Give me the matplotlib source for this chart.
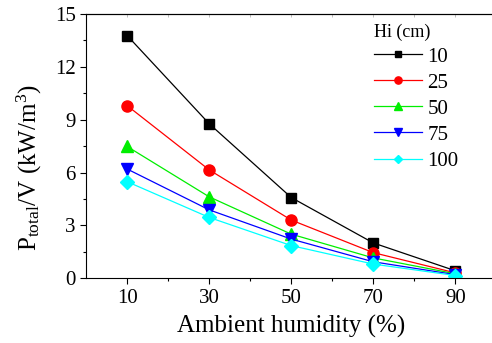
import numpy as np
import matplotlib
matplotlib.use("Agg")
import matplotlib.pyplot as plt
from matplotlib.ticker import MultipleLocator, FixedLocator

plt.rcParams["font.family"] = "serif"
plt.rcParams["font.serif"] = ["Liberation Serif", "DejaVu Serif"]
plt.rcParams["mathtext.fontset"] = "custom"
plt.rcParams["mathtext.rm"] = "Liberation Serif"
plt.rcParams["mathtext.it"] = "Liberation Serif:italic"

# ---- data ----
humidity = [10, 30, 50, 70, 90]
hi_labels = ["10", "25", "50", "75", "100"]
p_10 = [13.78, 8.77, 4.58, 2.0, 0.42]
p_25 = [9.8, 6.15, 3.3, 1.45, 0.3]
p_50 = [7.48, 4.62, 2.5, 1.15, 0.25]
p_75 = [6.2, 3.88, 2.22, 0.93, 0.2]
p_100 = [5.48, 3.45, 1.85, 0.8, 0.15]

series = [p_10, p_25, p_50, p_75, p_100]
colors = ["black", "red", "#00ee00", "blue", "cyan"]
markers = ["s", "o", "^", "v", "D"]
msizes = [7, 8, 8, 8, 7]

fig = plt.figure(figsize=(4.92, 3.43), dpi=100)
ax = fig.add_axes([0.175, 0.189, 0.834, 0.77])

for vals, c, m, ms, lab in zip(series, colors, markers, msizes, hi_labels):
    ax.plot(humidity, vals, color=c, marker=m, markersize=ms, lw=0.9,
            markeredgecolor=c, label=lab)

ax.set_xlim(0, 100)
ax.set_ylim(0, 15)
ax.xaxis.set_major_locator(FixedLocator(humidity))
ax.xaxis.set_minor_locator(FixedLocator([20, 40, 60, 80]))
ax.yaxis.set_major_locator(MultipleLocator(3))
ax.yaxis.set_minor_locator(MultipleLocator(1.5))
ax.tick_params(which="major", direction="out", length=4, width=0.8, labelsize=15)
ax.tick_params(which="minor", direction="out", length=2.5, width=0.8)
ax.spines["right"].set_visible(False)

# faint inward ticks along the top edge
top = ax.secondary_xaxis("top")
top.set_xticks(np.arange(0, 101, 10))
top.tick_params(direction="in", length=2, width=0.6, color="0.7", labeltop=False)

ax.set_xlabel("Ambient humidity (%)", fontsize=18, labelpad=5)
ax.set_ylabel(r"P$_{\rm total}$/V (kW/m$^{3}$)", fontsize=18)
ax.yaxis.set_label_coords(-0.102, 0.42)

leg = ax.legend(title="Hi (cm)", loc="upper left", bbox_to_anchor=(0.702, 0.965),
                frameon=False, fontsize=15, title_fontsize=13, numpoints=1,
                markerscale=0.65, handlelength=2.3, handletextpad=0.25,
                labelspacing=0.31, borderaxespad=0, borderpad=0)
leg._legend_box.align = "left"

fig.savefig("out.png", dpi=100)
